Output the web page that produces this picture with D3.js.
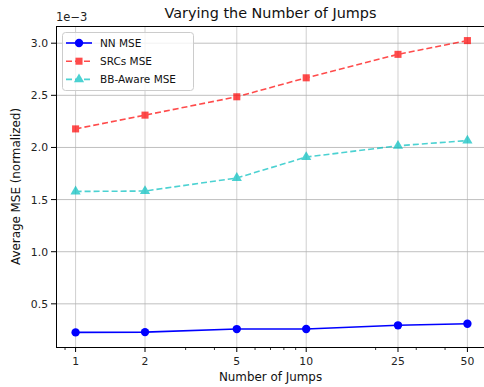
<!DOCTYPE html>
<html>
<head>
<meta charset="utf-8">
<script src="https://cdn.jsdelivr.net/npm/d3@7"></script>
<style>
  body { margin: 0; background: #fff; }
  svg { display: block; font-family: "DejaVu Sans", sans-serif; }
</style>
</head>
<body>
<div id="chart"></div>
<script>
// data (MSE values in units of 1e-3)
var jumps = [1, 2, 5, 10, 25, 50];
var nnMse = [0.226, 0.229, 0.258, 0.259, 0.294, 0.309];
var srcMse = [2.178, 2.310, 2.486, 2.668, 2.893, 3.025];
var bbMse = [1.578, 1.582, 1.707, 1.908, 2.016, 2.066];
var xTickLabels = ['1', '2', '5', '10', '25', '50'];
var yTicks = [0.5, 1.0, 1.5, 2.0, 2.5, 3.0];
var minorTicks = [0.9, 3, 4, 6, 7, 8, 9, 20, 30, 40, 60];

var W = 484, H = 387,
	pL = 56, pR = 487, pT = 26, pB = 347;

var svg = d3.select('#chart').append('svg').attr('width', W).attr('height', H);

// log x with 5% margins (in log space), like matplotlib
var lmin = Math.log10(d3.min(jumps)), lmax = Math.log10(d3.max(jumps)),
	lpad = (lmax - lmin) * 0.05;
var x = d3.scaleLog()
	.domain([Math.pow(10, lmin - lpad), Math.pow(10, lmax + lpad)])
	.range([pL, pR]);

var all = nnMse.concat(srcMse, bbMse),
	ymin = d3.min(all), ymax = d3.max(all), ypad = (ymax - ymin) * 0.05;
var y = d3.scaleLinear().domain([ymin - ypad, ymax + ypad]).range([pB, pT]);

var series = [
	{name: 'NN MSE', vals: nnMse, color: '#0000ff', op: 1, dash: null, marker: 'circle'},
	{name: 'SRCs MSE', vals: srcMse, color: '#ff0000', op: 0.7, dash: '6,3', marker: 'square'},
	{name: 'BB-Aware MSE', vals: bbMse, color: '#00bfbf', op: 0.7, dash: '6,3', marker: 'triangle'}
];

// grid
var grid = svg.append('g');
grid.selectAll('.vg').data(jumps).enter().append('line')
	.attr('x1', function(d){ return x(d); }).attr('x2', function(d){ return x(d); })
	.attr('y1', pT).attr('y2', pB)
	.attr('stroke', '#b0b0b0').attr('stroke-opacity', 0.6).attr('stroke-width', 1);
grid.selectAll('.hg').data(yTicks).enter().append('line')
	.attr('x1', pL).attr('x2', pR)
	.attr('y1', function(d){ return y(d); }).attr('y2', function(d){ return y(d); })
	.attr('stroke', '#b0b0b0').attr('stroke-opacity', 0.8).attr('stroke-width', 1);

// lines and markers
var sym = {
	circle: d3.symbol().type(d3.symbolCircle).size(55),
	square: d3.symbol().type(d3.symbolSquare).size(50),
	triangle: d3.symbol().type(d3.symbolTriangle).size(45)
};
var line = d3.line().x(function(d){ return x(d[0]); }).y(function(d){ return y(d[1]); });

series.forEach(function(s){
	var pts = jumps.map(function(j, i){ return [j, s.vals[i]]; });
	var g = svg.append('g').attr('opacity', s.op);
	g.append('path').attr('d', line(pts)).attr('fill', 'none')
		.attr('stroke', s.color).attr('stroke-width', 1.6)
		.attr('stroke-dasharray', s.dash);
	g.selectAll('path.m').data(pts).enter().append('path')
		.attr('class', 'm')
		.attr('d', sym[s.marker])
		.attr('transform', function(d){ return 'translate(' + x(d[0]) + ',' + y(d[1]) + ')'; })
		.attr('fill', s.color);
});

// spines
var sp = svg.append('g').attr('stroke', '#000').attr('stroke-width', 1).attr('fill', 'none');
sp.append('rect').attr('x', pL + 0.5).attr('y', pT + 0.5)
	.attr('width', pR - pL).attr('height', pB - pT);

// x ticks
var xt = svg.append('g');
xt.selectAll('line.maj').data(jumps).enter().append('line')
	.attr('x1', function(d){ return x(d); }).attr('x2', function(d){ return x(d); })
	.attr('y1', pB).attr('y2', pB + 5).attr('stroke', '#000');
xt.selectAll('line.min').data(minorTicks).enter().append('line')
	.attr('x1', function(d){ return x(d); }).attr('x2', function(d){ return x(d); })
	.attr('y1', pB).attr('y2', pB + 3).attr('stroke', '#000').attr('stroke-width', 0.8);
xt.selectAll('text').data(jumps).enter().append('text')
	.attr('x', function(d){ return x(d); }).attr('y', pB + 18)
	.attr('text-anchor', 'middle').attr('font-size', 10.8).attr('fill', '#222')
	.text(function(d, i){ return xTickLabels[i]; });

// y ticks
var yt = svg.append('g');
yt.selectAll('line').data(yTicks).enter().append('line')
	.attr('x1', pL - 5).attr('x2', pL)
	.attr('y1', function(d){ return y(d); }).attr('y2', function(d){ return y(d); })
	.attr('stroke', '#000');
yt.selectAll('text').data(yTicks).enter().append('text')
	.attr('x', pL - 8).attr('y', function(d){ return y(d) + 4; })
	.attr('text-anchor', 'end').attr('font-size', 10.8).attr('fill', '#222')
	.text(function(d){ return d.toFixed(1); });

svg.append('text').attr('x', pL).attr('y', 21).attr('font-size', 11.5).attr('fill', '#222')
	.text('1e\u22123');

// labels
svg.append('text').attr('x', (pL + pR) / 2 - 1).attr('y', 18)
	.attr('text-anchor', 'middle').attr('font-size', 14.4).attr('fill', '#111')
	.text('Varying the Number of Jumps');
svg.append('text').attr('x', (pL + pR) / 2 - 1).attr('y', 381)
	.attr('text-anchor', 'middle').attr('font-size', 11.9).attr('fill', '#111')
	.text('Number of Jumps');
svg.append('text')
	.attr('transform', 'translate(19.5,' + ((pT + pB) / 2) + ') rotate(-90)')
	.attr('text-anchor', 'middle').attr('font-size', 11.9).attr('fill', '#111')
	.text('Average MSE (normalized)');

// legend
var lg = svg.append('g').attr('transform', 'translate(62,32)');
lg.append('rect').attr('x', 0.5).attr('y', 0.5).attr('width', 131).attr('height', 58).attr('rx', 3)
	.attr('fill', '#fff').attr('fill-opacity', 0.8).attr('stroke', '#ccc');
series.forEach(function(s, i){
	var yy = 11 + i * 18.2;
	var g = lg.append('g').attr('opacity', s.op);
	g.append('line').attr('x1', 4).attr('x2', 30).attr('y1', yy).attr('y2', yy)
		.attr('stroke', s.color).attr('stroke-width', 1.6).attr('stroke-dasharray', s.dash);
	g.append('path').attr('d', sym[s.marker]).attr('transform', 'translate(17,' + yy + ')')
		.attr('fill', s.color);
	lg.append('text').attr('x', 38).attr('y', yy + 4).attr('font-size', 10.5).attr('fill', '#111')
		.text(s.name);
});
</script>
</body>
</html>
